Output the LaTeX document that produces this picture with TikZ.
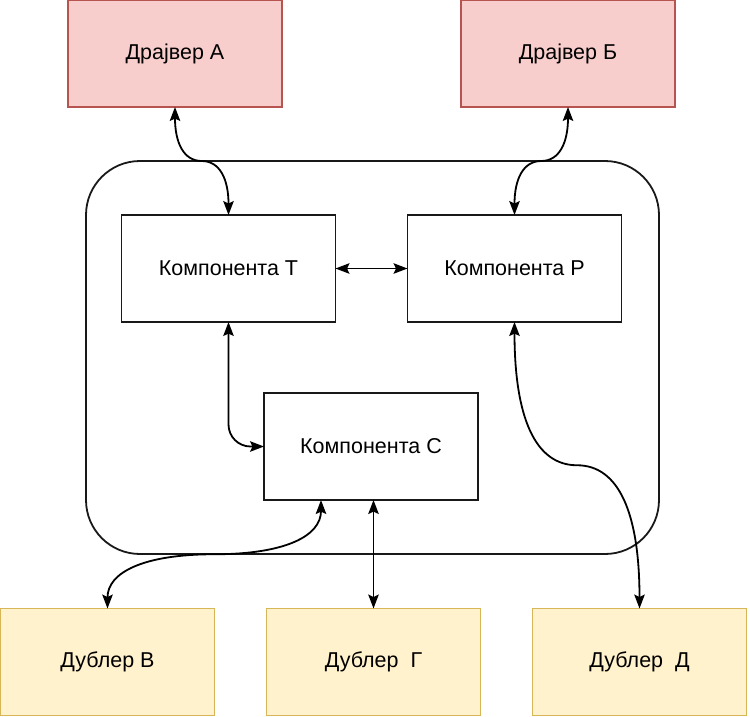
\documentclass[tikz,border=0pt]{standalone}
\usepackage{fontspec}
\setmainfont{Liberation Sans}
\usetikzlibrary{positioning, arrows.meta, calc}
\definecolor{drvfill}{HTML}{F8CECC}
\definecolor{drvline}{HTML}{B85450}
\definecolor{dubfill}{HTML}{FFF2CC}
\definecolor{dubline}{HTML}{D6B656}

\begin{document}
\begin{tikzpicture}[
    x=1pt, y=1pt,
    font=\fontsize{21.5}{25}\selectfont,
    block/.style={
        rectangle, draw=black!90, line width=1.8pt,
        minimum width=214pt, minimum height=107pt,
        inner sep=0pt, outer sep=0pt
    },
    driver/.style={block, draw=drvline, fill=drvfill},
    backup/.style={block, draw=dubline, fill=dubfill},
    link/.style={{Stealth[length=14pt, width=10.5pt, inset=2.5pt]}-{Stealth[length=14pt, width=10.5pt, inset=2.5pt]}, line width=1.8pt}
]
\useasboundingbox[fill=white] (0,0) rectangle (750,-716);

%% ---- Core (rounded frame) ----
\node[draw=black!90, line width=1.8pt, rounded corners=54pt,
      minimum width=573pt, minimum height=393pt] (core) at (372.5,-357.5) {};

%% ---- Row 1: Drivers ----
\node[driver] (drvA) at (175,-53.5) {Драјвер А};
\node[driver, right=179pt of drvA] (drvB) {Драјвер Б};

%% ---- Row 2: Components ----
\node[block] (compT) at (228.5,-268.5) {Компонента Т};
\node[block, right=72pt of compT] (compR) {Компонента Р};
\node[block] (compC) at (371,-446.5) {Компонента С};

%% ---- Row 3: Backups ----
\node[backup] (dubV) at (107.5,-662) {Дублер В};
\node[backup, right=52pt of dubV] (dubG) {Дублер\ \ Г};
\node[backup, right=52pt of dubG] (dubD) {Дублер\ \ Д};

% Drivers <-> components
\draw[link] (drvA.south) .. controls +(0,-36) and +(-18,0) .. ($(drvA.south)!0.5!(compT.north)$)
    .. controls +(18,0) and +(0,36) .. (compT.north);
\draw[link] (drvB.south) .. controls +(0,-36) and +(18,0) .. ($(drvB.south)!0.5!(compR.north)$)
    .. controls +(-18,0) and +(0,36) .. (compR.north);

% Inside the core
\draw[link] (compT) -- (compR);
\draw[link, rounded corners=22pt] (compT.south) |- (compC.west);

% Components <-> backups
\draw[link] ([xshift=-50pt]compC.south) .. controls +(0,-36) and +(71,0) .. ($([xshift=-50pt]compC.south)!0.5!(dubV.north)$)
    .. controls +(-71,0) and +(0,36) .. (dubV.north);
\draw[link] (dubG.north |- compC.south) -- (dubG.north);
\draw[link] (compR.south) .. controls +(0,-95) and +(-42,0) .. ($(compR.south)!0.5!(dubD.north)$)
    .. controls +(42,0) and +(0,95) .. (dubD.north);

\end{tikzpicture}
\end{document}
